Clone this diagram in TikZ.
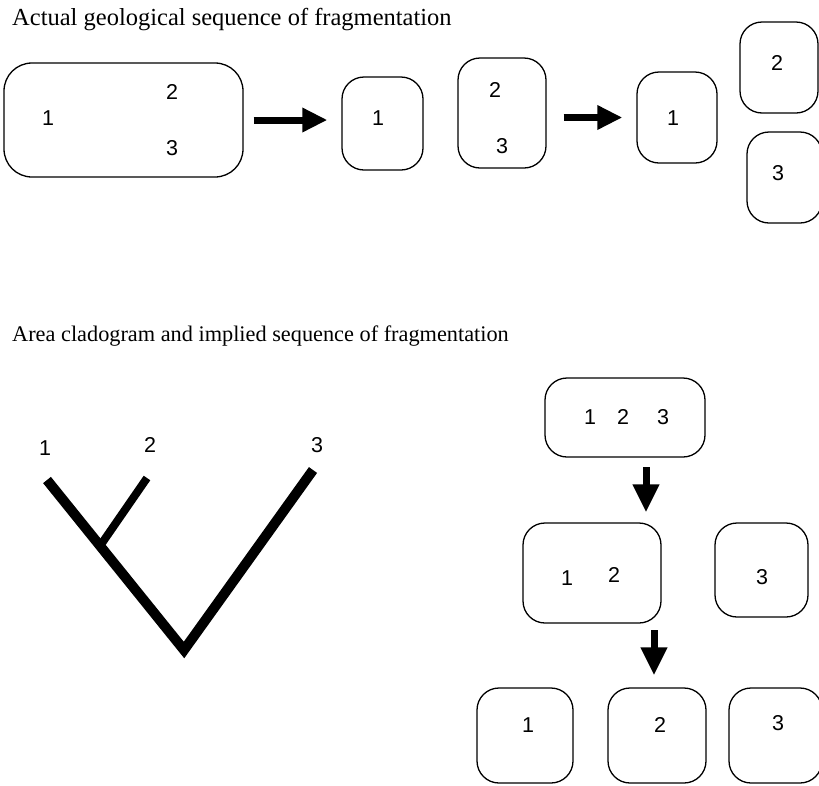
\documentclass[tikz,border=0pt]{standalone}
\usepackage{fontspec}
\setmainfont{Liberation Serif}
\newfontfamily\numfont{Liberation Sans}
\usepackage{tikz}
\usetikzlibrary{arrows.meta}

\begin{document}
\begin{tikzpicture}[x=1pt, y=-1pt,
area/.style={draw, line width=1.3pt, rounded corners=22pt, inner sep=0pt},
num/.style={font=\numfont\fontsize{21.5}{24}\selectfont, inner sep=0pt},
title/.style={anchor=base west, inner sep=0pt},
fat/.style={-{Triangle[length=25pt, width=23pt]}, line width=7pt},
branch/.style={line width=10pt, line join=miter}]
\useasboundingbox (0,0) rectangle (819,785);

% actual geological sequence
\node[title, font=\fontsize{24.5}{28}\selectfont] (t1) at (12,25) {Actual geological sequence of fragmentation};
\node[area, rounded corners=28pt, minimum width=239pt, minimum height=114pt] (g123) at (123.5,120) {};
\node[area, minimum width=81pt, minimum height=93pt] (g1) at (382.5,123.5) {};
\node[area, minimum width=88pt, minimum height=110pt] (g23) at (502,113) {};
\node[area, minimum width=80pt, minimum height=91pt] (g1b) at (677,117.5) {};
\node[area, minimum width=78pt, minimum height=91pt] (g2) at (779,67.5) {};
\node[area, minimum width=75pt, minimum height=91pt] (g3) at (784.5,177.5) {};
\coordinate (h1) at (g123.east);
\coordinate (h2) at (g1b.west);
\draw[fat, shorten <=10pt, shorten >=14pt] (h1) -- (h1 -| g1.west);
\draw[fat, shorten <=17pt, shorten >=14pt] (h2 -| g23.east) -- (h2);

% area cladogram
\node[title, font=\fontsize{22.3}{26}\selectfont] (t2) at (12,341) {Area cladogram and implied sequence of fragmentation};
\coordinate (l1) at (47,480);
\coordinate (l2) at (147,478);
\coordinate (l3) at (313,470);
\coordinate (root) at (184,650);
\coordinate (fork) at (100,546);
\draw[branch] (l1) -- (root) -- (l3);
\draw[branch, line width=8pt] (fork) -- (l2);

% implied sequence
\node[area, minimum width=160pt, minimum height=79pt] (c123) at (625,417.5) {};
\node[area, minimum width=138pt, minimum height=100pt] (c12) at (592,573) {};
\node[area, minimum width=93pt, minimum height=94pt] (c3a) at (761.5,570) {};
\node[area, minimum width=96pt, minimum height=95pt] (c1) at (525,735.5) {};
\node[area, minimum width=98pt, minimum height=95pt] (c2) at (657,735.5) {};
\node[area, minimum width=93pt, minimum height=95pt] (c3b) at (775.5,735.5) {};
\coordinate (d1) at (646,457);
\coordinate (d2) at (654,623);
\draw[fat, -{Triangle[length=28pt, width=25pt]}, shorten <=10pt, shorten >=10pt] (d1) -- (d1 |- c12.north);
\draw[fat, -{Triangle[length=28pt, width=25pt]}, shorten <=7pt, shorten >=12pt] (d2) -- (d2 |- c2.north);

% area numbers
\foreach \x/\y/\t/\n in {48/118/1/ga, 172/92/2/gb, 172/148/3/gc, 378/118/1/gd,
  495/90/2/ge, 502/146/3/gf, 673/118/1/gg, 777/63/2/gh, 778/173/3/gi,
  45/448/1/ka, 150/445/2/kb, 317/445/3/kc,
  590/417/1/ca, 623/417/2/cb, 663/417/3/cc, 567/578/1/cd, 614/575/2/ce,
  762/577/3/cf, 528/725/1/cg, 660/725/2/ch, 778/723/3/ci}
  \node[num] (n\n) at (\x,\y) {\t};
\end{tikzpicture}
\end{document}
